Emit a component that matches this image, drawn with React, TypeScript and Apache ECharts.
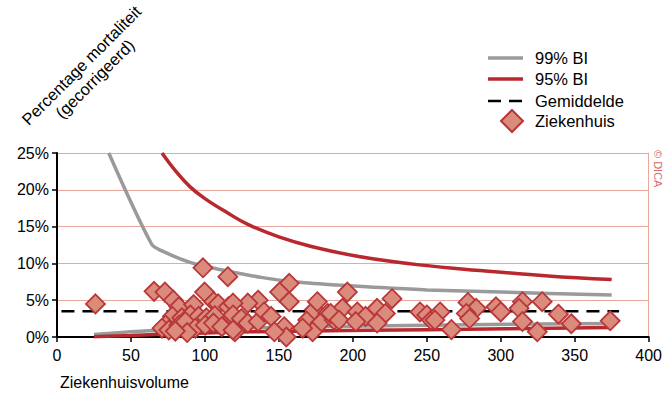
import React, { useEffect, useRef } from "react";
import * as echarts from "echarts";

const xTicks = [0, 50, 100, 150, 200, 250, 300, 350, 400];
const yTickLabels = ["0%", "5%", "10%", "15%", "20%", "25%"];

const upper99: [number, number][] = [
  [35, 25], [64, 12.6], [71, 11.7], [89, 10.2], [107, 9.3], [122, 8.7], [138, 8.1],
  [160, 7.5], [190, 7.05], [212, 6.8], [250, 6.4], [300, 6.1], [375, 5.7],
];
const lower99: [number, number][] = [
  [25, 0.35], [50, 0.7], [75, 0.95], [100, 1.1], [130, 1.25], [170, 1.35], [250, 1.6], [375, 1.85],
];
const upper95: [number, number][] = [
  [71, 25], [80, 22.6], [90, 20.4], [100, 18.8], [115, 16.9], [129, 15.3], [150, 13.6],
  [172, 12.3], [205, 10.9], [245, 9.8], [288, 9.0], [332, 8.3], [375, 7.8],
];
const lower95: [number, number][] = [
  [25, 0.05], [50, 0.2], [75, 0.4], [100, 0.55], [130, 0.7], [170, 0.8], [250, 1.0], [375, 1.3],
];
const gemiddelde: [number, number][] = [
  [3, 3.5], [380, 3.5],
];
const ziekenhuis: [number, number][] = [
  [26, 4.5],
  [65.6, 6.2], [73, 6.1], [78.6, 5.0], [82.4, 4.1], [92.4, 4.4], [98.7, 9.4], [99.8, 6.1],
  [105.9, 4.8], [109, 4.5], [115.5, 8.2], [115.9, 4.1], [118, 2.8], [78, 2.8], [84.4, 2.6],
  [90.2, 3.0], [95.8, 2.8], [101, 2.6], [106.7, 2.9], [73.4, 1.6], [71, 1.2], [75.6, 0.95],
  [82.4, 1.6], [86.8, 2.1], [93.5, 1.2], [100.2, 1.6], [105.8, 1.9], [111.4, 1.4], [120.3, 0.7],
  [88, 0.6], [80, 0.8],
  [157, 7.3], [150.5, 6.1], [157, 4.8], [136, 5.0], [129, 4.6], [119, 4.6], [119, 3.0],
  [124.6, 2.5], [119, 0.95], [129, 1.9], [136, 2.1], [140, 3.4], [144.7, 2.8], [153.6, 1.4],
  [155, 0], [147, 0.7], [169.5, 2.3], [174, 3.7], [176, 4.8], [183, 3.2], [178, 1.9],
  [172.8, 0.7], [166, 1.2], [187.4, 2.3],
  [196.3, 6.1], [226.5, 5.2], [193, 3.9], [185, 3.2], [203, 3.4], [208.6, 2.8], [216.4, 3.9],
  [222, 3.2], [216.4, 1.9], [190.7, 2.3], [202, 2.1], [245.4, 3.4], [250, 3.0], [253, 2.3],
  [259, 3.4], [255.5, 2.3], [266.7, 1.0], [277.8, 4.7], [283.4, 3.9], [276.7, 3.2], [279, 2.5],
  [296.8, 4.1], [300, 3.4], [314.7, 4.8], [312.4, 3.9], [328, 4.8], [314.7, 2.1], [324.7, 0.7],
  [339, 3.1], [347.7, 1.8], [374, 2.2],
];

const FONT = "'Liberation Sans', Arial, sans-serif";
const GRAY = "#9a9a9a";
const RED = "#b8282e";
const FILL = "#db8b7b";
const EDGE = "#b9373a";
const GRID = "#eaa89c";

export default function App() {
  const ref = useRef<HTMLDivElement>(null);
  useEffect(() => {
    document.body.style.margin = "0";
    if (!ref.current) return;
    const chart = echarts.init(ref.current, null, { renderer: "svg" });
    const legendRows = [
      { name: "99% BI", y: 58 },
      { name: "95% BI", y: 79 },
      { name: "Gemiddelde", y: 101 },
      { name: "Ziekenhuis", y: 121 },
    ];
    chart.setOption({
      animation: false,
      textStyle: { fontFamily: FONT },
      grid: { left: 57, right: 11, top: 153, bottom: 61 },
      xAxis: {
        type: "value",
        min: 0,
        max: 400,
        interval: 50,
        axisLine: { show: true, lineStyle: { color: "#000", width: 2 } },
        axisTick: { show: true, inside: false, length: 5, lineStyle: { color: "#000", width: 1.5 } },
        axisLabel: {
          color: "#000",
          fontSize: 16,
          fontFamily: FONT,
          margin: 10,
          formatter: (v: number) => (xTicks.includes(v) ? String(v) : ""),
        },
        splitLine: { show: false },
      },
      yAxis: [
        {
          type: "value",
          min: 0,
          max: 25,
          interval: 5,
          axisLine: { show: true, lineStyle: { color: "#000", width: 2 } },
          axisTick: { show: true, length: 5, lineStyle: { color: "#000", width: 1.5 } },
          axisLabel: {
            color: "#000",
            fontSize: 16,
            fontFamily: FONT,
            margin: 8,
            formatter: (v: number) => yTickLabels[Math.round(v / 5)] ?? "",
          },
          splitLine: { show: true, lineStyle: { color: GRID, width: 1 } },
        },
        {
          type: "value",
          min: 0,
          max: 25,
          interval: 5,
          position: "right",
          axisLine: { show: true, lineStyle: { color: GRID, width: 1 } },
          axisTick: { show: false },
          axisLabel: { show: false },
          splitLine: { show: false },
        },
      ],
      series: [
        {
          name: "99% BI",
          type: "line",
          data: upper99,
          smooth: 0.3,
          symbol: "none",
          lineStyle: { color: GRAY, width: 3.5 },
          z: 2,
        },
        {
          name: "99% BI lower",
          type: "line",
          data: lower99,
          smooth: 0.3,
          symbol: "none",
          lineStyle: { color: GRAY, width: 3.5 },
          z: 2,
        },
        {
          name: "95% BI",
          type: "line",
          data: upper95,
          smooth: 0.4,
          symbol: "none",
          lineStyle: { color: RED, width: 3.5 },
          z: 3,
        },
        {
          name: "95% BI lower",
          type: "line",
          data: lower95,
          smooth: 0.3,
          symbol: "none",
          lineStyle: { color: RED, width: 3.5 },
          z: 3,
        },
        {
          name: "Gemiddelde",
          type: "line",
          data: gemiddelde,
          symbol: "none",
          lineStyle: { color: "#000", width: 2.5, type: [13, 8] },
          z: 4,
        },
        {
          name: "Ziekenhuis",
          type: "scatter",
          data: ziekenhuis,
          symbol: "diamond",
          symbolSize: 19,
          itemStyle: { color: FILL, borderColor: EDGE, borderWidth: 1.8, opacity: 1 },
          z: 5,
        },
      ],
      graphic: [
        {
          type: "text",
          x: 88,
          y: 72,
          rotation: Math.PI / 4,
          style: {
            text: "Percentage mortaliteit\n(gecorrigeerd)",
            fontSize: 16.5,
            fontFamily: FONT,
            fill: "#000",
            align: "center",
            verticalAlign: "middle",
            lineHeight: 19,
          },
        },
        {
          type: "text",
          left: 60,
          top: 374,
          style: { text: "Ziekenhuisvolume", fontSize: 16, fontFamily: FONT, fill: "#000" },
        },
        {
          type: "text",
          x: 658,
          y: 150,
          rotation: -Math.PI / 2,
          style: {
            text: "© DICA",
            fontSize: 11,
            fontFamily: FONT,
            fill: "#d46a6a",
            align: "left",
            verticalAlign: "middle",
          },
        },
        { type: "line", shape: { x1: 488, y1: 58, x2: 523, y2: 58 }, style: { stroke: GRAY, lineWidth: 3.5 } },
        { type: "line", shape: { x1: 488, y1: 79, x2: 523, y2: 79 }, style: { stroke: RED, lineWidth: 3.5 } },
        {
          type: "line",
          shape: { x1: 488, y1: 101, x2: 523, y2: 101 },
          style: { stroke: "#000", lineWidth: 2.5, lineDash: [13, 8] },
        },
        {
          type: "polygon",
          shape: { points: [[512, 110], [523, 121], [512, 132], [501, 121]] },
          style: { fill: FILL, stroke: EDGE, lineWidth: 2 },
        },
        ...legendRows.map((r) => ({
          type: "text",
          x: 535,
          y: r.y,
          style: {
            text: r.name,
            fontSize: 16.5,
            fontFamily: FONT,
            fill: "#000",
            align: "left",
            verticalAlign: "middle",
          },
        })),
      ],
    });
    return () => chart.dispose();
  }, []);
  return <div ref={ref} style={{ width: 665, height: 398, position: "absolute", left: 0, top: 0 }} />;
}
